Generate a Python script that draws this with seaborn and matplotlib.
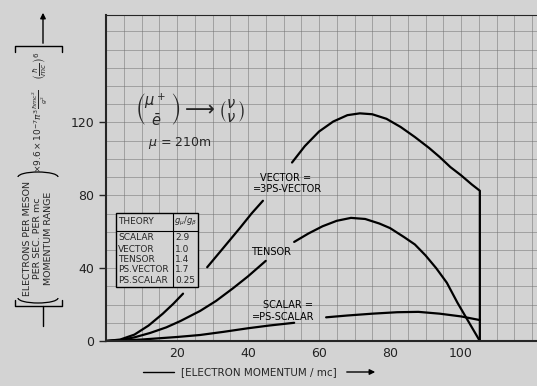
import numpy as np
import pandas as pd
import matplotlib.pyplot as plt
import seaborn as sns
from matplotlib.lines import Line2D
from matplotlib.patches import Arc, Rectangle

# curves, split where the original leaves gaps for labels
vector_seg1_x = [0, 4, 8, 12, 16, 19, 21.7]
vector_seg1_y = [0, 0.8, 3.5, 8.5, 15, 20.5, 26]
vector_seg2_x = [28.5, 33, 37.7, 41, 44.2]
vector_seg2_y = [40.5, 51, 62, 70, 77]
vector_seg3_x = [52.4, 56, 60, 64, 68, 71.5, 75, 79, 83, 87, 91, 94, 97, 100, 103, 105.3, 105.3]
vector_seg3_y = [98, 107, 115, 120.5, 124, 125, 124.5, 122, 117.5, 112, 106, 101, 95.5, 91, 86, 82.5, 0]

tensor_seg1_x = [0, 4, 8, 12.4, 17, 21, 26.5, 31, 35.8, 40, 45]
tensor_seg1_y = [0, 0.5, 2, 4.4, 7.5, 11, 16.5, 22, 29, 35.5, 44]
tensor_seg2_x = [53, 57, 61, 65, 69, 73, 77, 80, 84, 87, 90, 93, 96, 99, 102, 105.3]
tensor_seg2_y = [54.4, 59, 63, 66, 67.6, 67, 64.5, 62, 57, 53, 47, 40, 32, 21, 11, 0]

scalar_seg1_x = [0, 5, 10, 15, 20, 26.5, 33, 40, 46, 53]
scalar_seg1_y = [0, 0.3, 0.8, 1.5, 2.2, 3.3, 5, 7, 8.5, 10]
scalar_seg2_x = [62, 68, 75, 82, 88, 94, 100, 105.3]
scalar_seg2_y = [13, 14, 15, 15.8, 16, 15, 13.5, 11.5]

theories = ['SCALAR', 'VECTOR', 'TENSOR', 'PS.VECTOR', 'PS.SCALAR']
ratios = ['2.9', '1.0', '1.4', '1.7', '0.25']

x_ticks = [20, 40, 60, 80, 100]
y_ticks = [0, 40, 80, 120]

segments = {
    'v1': (vector_seg1_x, vector_seg1_y), 'v2': (vector_seg2_x, vector_seg2_y),
    'v3': (vector_seg3_x, vector_seg3_y),
    't1': (tensor_seg1_x, tensor_seg1_y), 't2': (tensor_seg2_x, tensor_seg2_y),
    's1': (scalar_seg1_x, scalar_seg1_y), 's2': (scalar_seg2_x, scalar_seg2_y),
}
rows = []
for name, (xs, ys) in segments.items():
    for xv, yv in zip(xs, ys):
        rows.append({'seg': name, 'x': xv, 'y': yv})
df = pd.DataFrame(rows)

sns.set_style("ticks")
plt.rcParams['font.family'] = ['DejaVu Sans']
bg = '#d3d3d3'

W, H = 537, 386
fig = plt.figure(figsize=(5.37, 3.86), dpi=100, facecolor=bg)
ax = fig.add_axes([106 / W, 45 / H, (W - 106) / W, 326 / H])
ax.set_facecolor(bg)

sns.lineplot(data=df, x='x', y='y', units='seg', estimator=None, sort=False,
             color='black', lw=1.6, ax=ax)

ax.set_xlim(0, 121.4)
ax.set_ylim(0, 179)
ax.set_xticks(x_ticks)
ax.set_yticks(y_ticks)
ax.set_xticks(np.arange(0, 122, 5), minor=True)
ax.set_yticks(np.arange(0, 180, 10), minor=True)
ax.grid(which='both', color='#6e6e6e', lw=0.5, alpha=0.7)
ax.tick_params(axis='x', which='both', length=0, labelsize=9, pad=4, labelcolor='#222222')
ax.tick_params(axis='y', which='major', length=5, width=1, labelsize=9, direction='out',
               labelcolor='#222222')
ax.tick_params(axis='y', which='minor', length=0)
ax.set_xlabel('')
ax.set_ylabel('')
for s in ['left', 'bottom']:
    ax.spines[s].set_linewidth(1.5)
ax.spines['top'].set_linewidth(0.8)
ax.spines['right'].set_visible(False)

# curve labels
lab = dict(fontsize=7, ha='center', va='center', color='black')
ax.text(50.7, 89.6, 'VECTOR =', **lab)
ax.text(51, 83.3, '=3PS-VECTOR', **lab)
ax.text(46.5, 49, 'TENSOR', **lab)
ax.text(51.3, 19.8, 'SCALAR =', **lab)
ax.text(50, 13.2, '=PS-SCALAR', **lab)

# decay formula
ax.text(23.7, 127, r'$\binom{\mu^+}{\bar{e}}\longrightarrow\binom{\nu}{\nu}$',
        fontsize=15, ha='center', va='center')
ax.text(20.8, 108.8, r'$\mu$ = 210m', fontsize=9, ha='center', va='center')

# coupling table
tx0, tx1, ty0, ty1 = 2.8, 25.9, 29.7, 70.3
ax.add_patch(Rectangle((tx0, ty0), tx1 - tx0, ty1 - ty0, facecolor=bg,
                       edgecolor='black', lw=1, zorder=3))
ax.plot([tx0, tx1], [60.4, 60.4], color='black', lw=0.8, zorder=4)
ax.plot([18.9, 18.9], [ty0, ty1], color='black', lw=0.8, zorder=4)
ax.text(3.4, 65.4, 'THEORY', fontsize=6.5, va='center', zorder=5)
ax.text(22.4, 65.4, r'$g_\mu/g_\beta$', fontsize=6, ha='center', va='center', zorder=5)
row_y = [56.6, 50.5, 45, 39, 33]
for name, r, yy in zip(theories, ratios, row_y):
    ax.text(3.4, yy, name, fontsize=6.5, va='center', zorder=5)
    ax.text(19.5, yy, r, fontsize=6.5, va='center', zorder=5)


def fx(px):
    return px / W


def fy(py):
    return 1 - py / H


def fline(xs, ys, lw=1.0):
    fig.add_artist(Line2D([fx(v) for v in xs], [fy(v) for v in ys],
                          transform=fig.transFigure, color='black', lw=lw))


# y axis label block
fig.text(fx(38), fy(238), 'ELECTRONS PER MESON\nPER SEC. PER mc\nMOMENTUM RANGE',
         rotation=90, fontsize=6.8, ha='center', va='center', linespacing=1.15)
fig.text(fx(40), fy(131), r'$\times9.6\times10^{-7}\pi^3\frac{\hbar mc^2}{g^2}$',
         rotation=90, fontsize=6.5, ha='center', va='center')
fig.text(fx(40), fy(66), r'$\left(\frac{\hbar}{mc}\right)^6$',
         rotation=90, fontsize=7.5, ha='center', va='center')
fig.add_artist(Arc((fx(38), fy(298)), 40 / W, 10 / H, theta1=180, theta2=360,
                   transform=fig.transFigure, color='black', lw=0.9))
fig.add_artist(Arc((fx(38), fy(177)), 40 / W, 10 / H, theta1=0, theta2=180,
                   transform=fig.transFigure, color='black', lw=0.9))
fline([15, 15, 62, 62], [300, 306, 306, 300])
fline([15, 15, 62, 62], [52, 46, 46, 52])
fline([43, 43], [306, 326])
ax.annotate('', xy=(43, H - 10), xytext=(43, H - 46), xycoords='figure pixels',
            textcoords='figure pixels',
            arrowprops=dict(arrowstyle='-|>', color='black', lw=1, mutation_scale=8))

# x axis label
fig.text(fx(259), fy(372), '[ELECTRON MOMENTUM / mc]', fontsize=7.5,
         ha='center', va='center')
fline([143, 174], [372, 372])
ax.annotate('', xy=(378, H - 372), xytext=(344, H - 372), xycoords='figure pixels',
            textcoords='figure pixels',
            arrowprops=dict(arrowstyle='-|>', color='black', lw=1, mutation_scale=8))

fig.savefig('out.png', dpi=100, facecolor=bg)
